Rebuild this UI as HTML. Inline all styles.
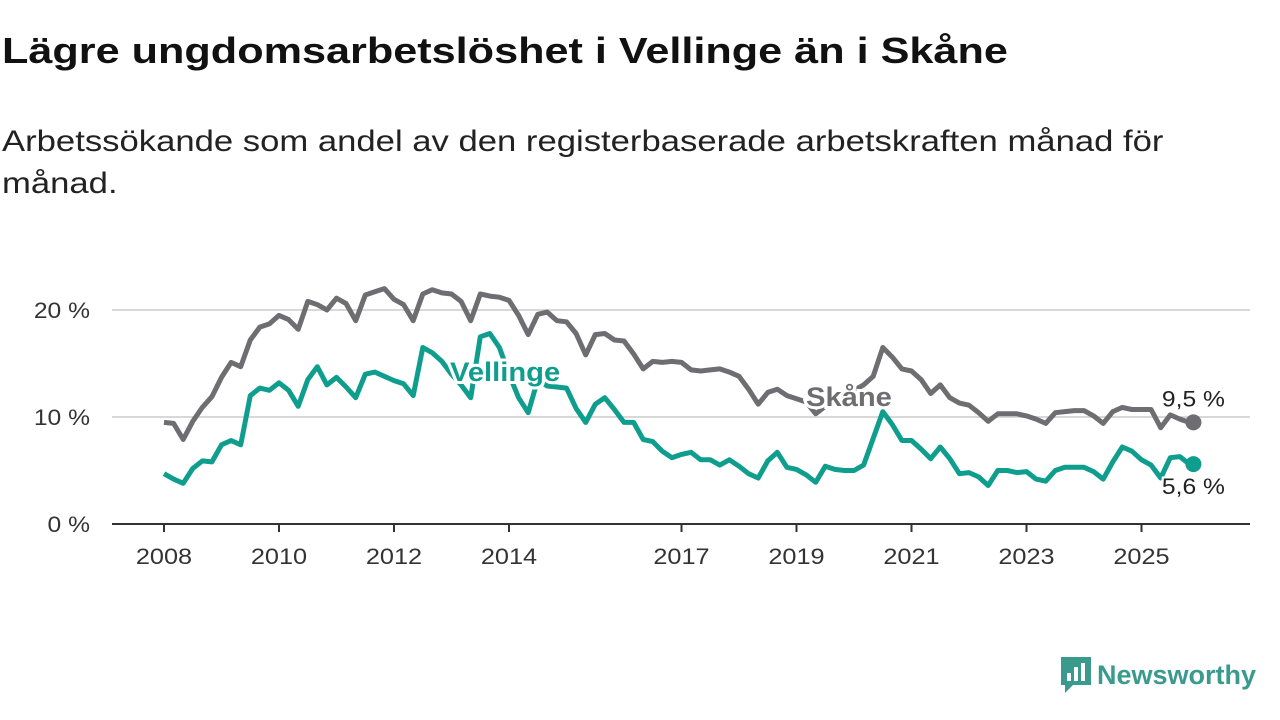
<!DOCTYPE html>
<html><head><meta charset="utf-8"><style>
body{margin:0;width:1280px;height:720px;background:#fff;font-family:"Liberation Sans",sans-serif;overflow:hidden;position:relative;color:#111}
h1{position:absolute;left:2px;top:30px;margin:0;font-size:36px;font-weight:bold;white-space:nowrap;transform:scaleX(1.2);transform-origin:0 0}
p.sub{position:absolute;left:2px;top:121px;margin:0;font-size:30px;line-height:42px;white-space:nowrap;color:#222;transform:scaleX(1.155);transform-origin:0 0}
svg{position:absolute;left:0;top:0}
</style></head><body>
<h1>Lägre ungdomsarbetslöshet i Vellinge än i Skåne</h1>
<p class="sub">Arbetssökande som andel av den registerbaserade arbetskraften månad för<br>månad.</p>
<svg id="chart" width="1280" height="720"></svg>
<div style="position:absolute;left:1059px;top:655px;display:flex;align-items:center">
<svg width="34" height="40" viewBox="0 0 34 40" style="position:static"><path d="M2 2h30v28H14l-8 8v-8H2z" fill="#3a9a8e"/><rect x="8" y="18" width="4" height="8" fill="#fff"/><rect x="15" y="12" width="4" height="14" fill="#fff"/><rect x="22" y="8" width="4" height="18" fill="#fff"/></svg>
<span style="font-size:27px;font-weight:bold;color:#3a9a8e;margin-left:4px">Newsworthy</span></div>
<script>
const startYear = 2008;
const stepMonths = 2;
const skane = [9.5,9.4,7.9,9.6,10.9,11.9,13.7,15.1,14.7,17.2,18.4,18.7,19.5,19.1,18.2,20.8,20.5,20.0,21.1,20.6,19.0,21.4,21.7,22.0,21.0,20.5,19.0,21.5,21.9,21.6,21.5,20.8,19.0,21.5,21.3,21.2,20.9,19.5,17.7,19.6,19.8,19.0,18.9,17.8,15.8,17.7,17.8,17.2,17.1,15.9,14.5,15.2,15.1,15.2,15.1,14.4,14.3,14.4,14.5,14.2,13.8,12.6,11.2,12.3,12.6,12.0,11.7,11.4,10.3,11.0,11.5,12.0,12.5,13.0,13.8,16.5,15.6,14.5,14.3,13.5,12.2,13.0,11.8,11.3,11.1,10.4,9.6,10.3,10.3,10.3,10.1,9.8,9.4,10.4,10.5,10.6,10.6,10.1,9.4,10.5,10.9,10.7,10.7,10.7,9.0,10.2,9.8,9.5];
const vellinge = [4.7,4.2,3.8,5.2,5.9,5.8,7.4,7.8,7.4,12.0,12.7,12.5,13.2,12.5,11.0,13.5,14.7,13.0,13.7,12.8,11.8,14.0,14.2,13.8,13.4,13.1,12.0,16.5,16.0,15.2,14.0,13.0,11.8,17.5,17.8,16.5,14.0,11.8,10.4,13.5,12.9,12.8,12.7,10.8,9.5,11.2,11.8,10.7,9.5,9.5,7.9,7.7,6.8,6.2,6.5,6.7,6.0,6.0,5.5,6.0,5.4,4.7,4.3,5.9,6.7,5.3,5.1,4.6,3.9,5.4,5.1,5.0,5.0,5.5,8.0,10.5,9.3,7.8,7.8,7.0,6.1,7.2,6.1,4.7,4.8,4.4,3.6,5.0,5.0,4.8,4.9,4.2,4.0,5.0,5.3,5.3,5.3,4.9,4.2,5.8,7.2,6.8,6.0,5.5,4.3,6.2,6.3,5.6];
const yTicks = [0,10,20];
const yTickLabels = ["0 %","10 %","20 %"];
const xTicks = [2008,2010,2012,2014,2017,2019,2021,2023,2025];

const NS="http://www.w3.org/2000/svg";
const svg=document.getElementById('chart');
const X=yr=>164+(yr-2008)*57.5;
const Y=v=>524-v*10.7;
const tx=i=>X(startYear+i*stepMonths/12);
function el(t,a){const e=document.createElementNS(NS,t);for(const k in a)e.setAttribute(k,a[k]);svg.appendChild(e);return e;}
yTicks.forEach((t,i)=>{
  if(t>0){const g=el('line',{x1:112,x2:1250,y1:Y(t),y2:Y(t),stroke:'#d8d8d8','stroke-width':2});
  
  }
  const l=el('text',{x:90,y:Y(t)+8,'text-anchor':'end','font-size':22,fill:'#333',transform:'translate(90,0) scale(1.12,1) translate(-90,0)'});
  l.textContent=yTickLabels[i];
  
  
});
const ax=el('line',{x1:112,x2:1250,y1:Y(0),y2:Y(0),stroke:'#333','stroke-width':2});


xTicks.forEach(t=>{
  const k=el('line',{x1:X(t),x2:X(t),y1:Y(0),y2:Y(0)+8,stroke:'#333','stroke-width':2});
  
  
  const l=el('text',{x:X(t),y:564,'text-anchor':'middle','font-size':22,fill:'#333',transform:'translate('+X(t)+',0) scale(1.15,1) translate('+(-X(t))+',0)'});
  l.textContent=t;
  
  
});
function line(data,color,name){
  const d=data.map((v,i)=>(i?'L':'M')+tx(i).toFixed(1)+','+Y(v).toFixed(1)).join('');
  const p=el('path',{d:d,fill:'none',stroke:color,'stroke-width':5,'stroke-linejoin':'round'});
  
  
  const n=data.length-1;
  const c=el('circle',{cx:tx(n)+4,cy:Y(data[n]),r:8,fill:color});
  
  
}
line(skane,'#6e6e72','skane');
line(vellinge,'#0f9e8e','vellinge');
function label(x,y,txt,color,name,bold,anchor,sx){
  const t=el('text',{x:x,y:y,'font-size':bold?27:22,'font-weight':bold?'bold':'normal',fill:color,stroke:'#fff','stroke-width':bold?6:4,'paint-order':'stroke','text-anchor':anchor||'start',transform:'translate('+x+',0) scale('+sx+',1) translate('+(-x)+',0)'});
  t.textContent=txt;
  
  
}
label(450,381,'Vellinge','#0f9e8e','vellinge-series-label',true,'start',1.08);
label(806,406,'Skåne','#6e6e72','skane-series-label',true,'start',1.08);
const n=skane.length-1;
label(tx(n)+4,Y(skane[n])-16,'9,5 %','#222','skane-end-value',false,'middle',1.12);
label(tx(n)+4,Y(vellinge[n])+30,'5,6 %','#222','vellinge-end-value',false,'middle',1.12);
</script>
</body></html>
